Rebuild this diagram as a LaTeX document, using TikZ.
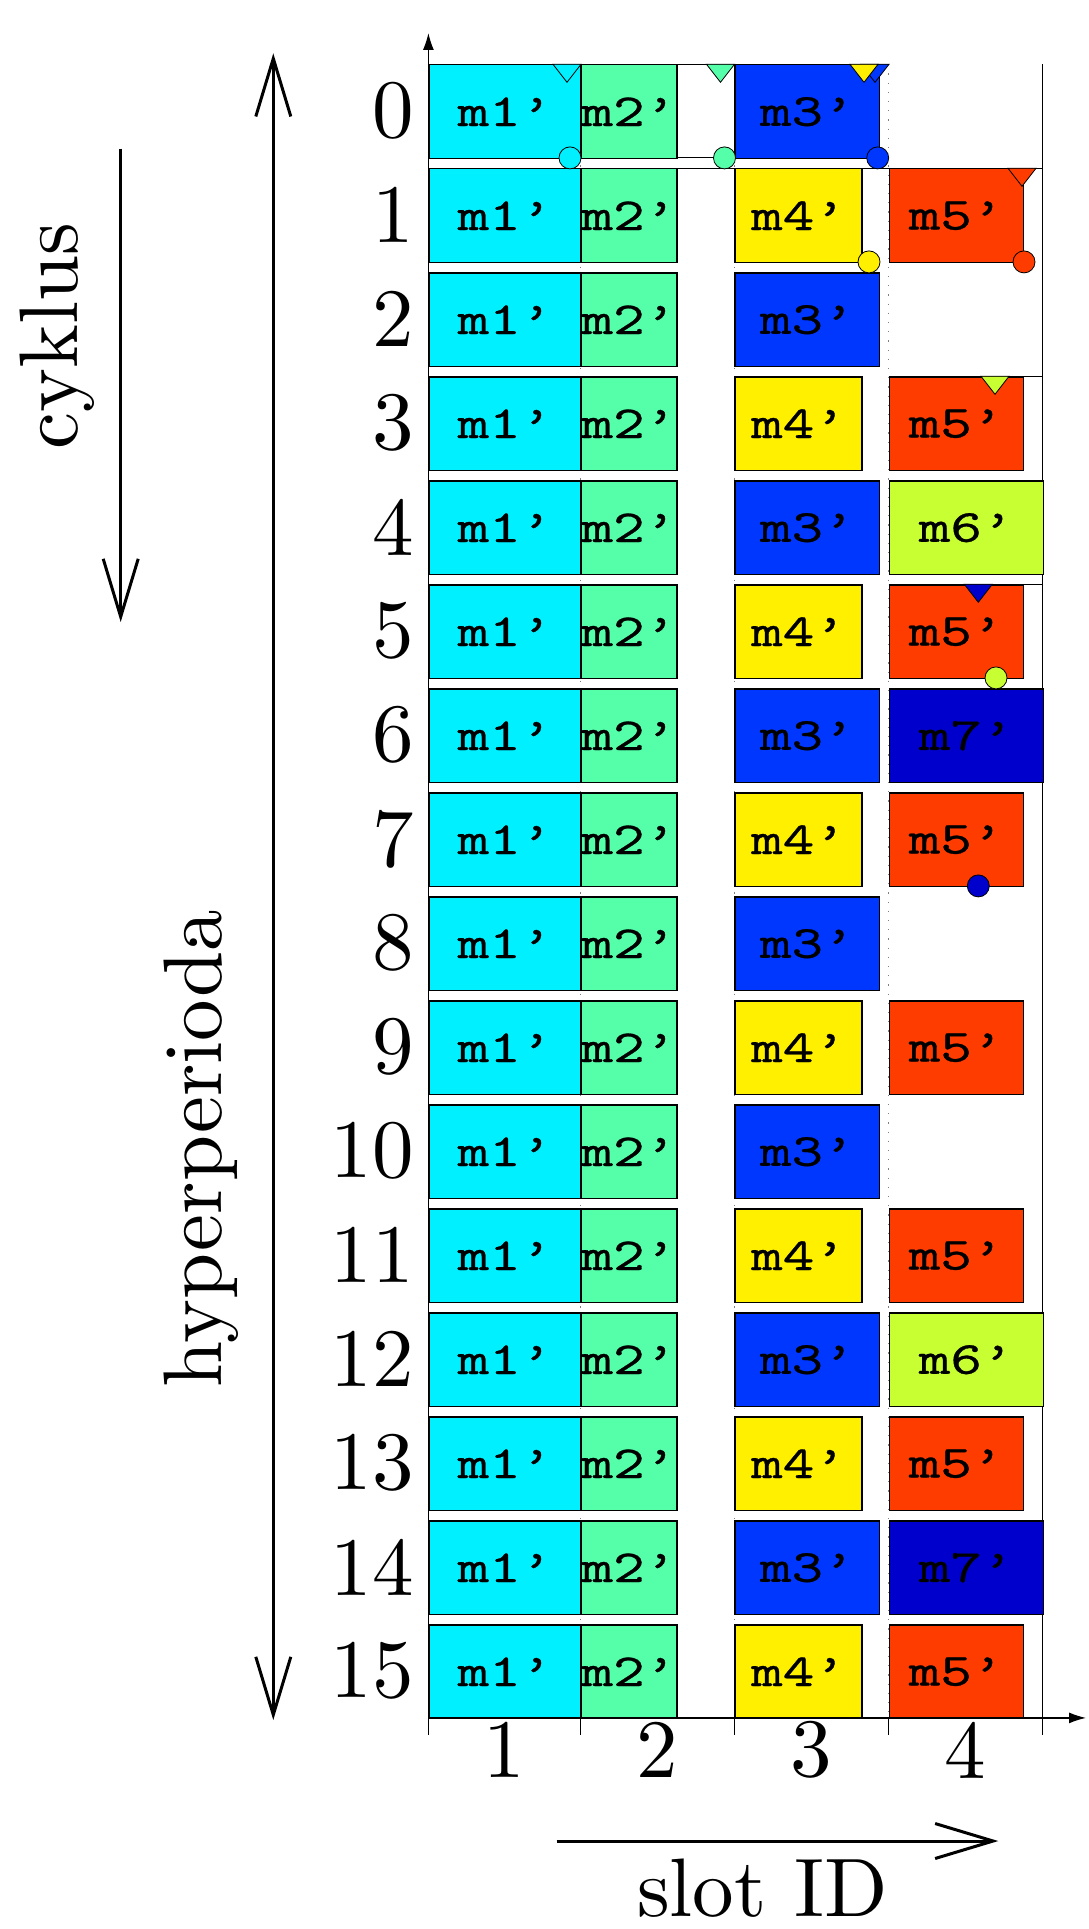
\documentclass[tikz,border=0pt]{standalone}
\usepackage{graphicx}
\usetikzlibrary{arrows.meta}

% fonts: large roman digits/labels and the typewriter cell text
\font\bigrm="[lmroman10-regular]:mapping=tex-text" at 83pt
\font\celltt="[lmmono10-regular]:embolden=0.6" at 46pt
\newcommand\celltext[1]{\scalebox{1.3}[1]{\celltt #1}}

% message colours
\definecolor{cMone}{RGB}{0,240,255}
\definecolor{cMtwo}{RGB}{85,255,170}
\definecolor{cMthree}{RGB}{0,55,255}
\definecolor{cMfour}{RGB}{255,240,0}
\definecolor{cMfive}{RGB}{255,60,0}
\definecolor{cMsix}{RGB}{200,255,50}
\definecolor{cMseven}{RGB}{0,0,205}

% slot boundaries
\def\Xa{428.4}
\def\Xb{580.3}
\def\Xc{734.4}
\def\Xd{888.5}
\def\Xe{1042.6}

\begin{document}
\begin{tikzpicture}[x=1pt,y=-1pt,
  cell/.style={draw=black, line width=1.2pt, inner sep=0pt, anchor=north west,
               minimum height=93.6pt},
  rowlabel/.style={anchor=east, inner sep=0pt, font=\bigrm},
  biglabel/.style={inner sep=0pt, font=\bigrm},
  bigarrow/.style={line width=3pt, -{Straight Barb[length=58pt,width=35pt]}},
  axisline/.style={line width=1.3pt, -{Latex[length=17pt,width=11pt]}},
  frameline/.style={line width=1pt},
  slotgrid/.style={gray, line width=1pt, dash pattern=on 1.2pt off 8pt},
  marker/.style={draw=black, line width=0.8pt}]
\useasboundingbox (0,0) rectangle (1088,1929);

% dotted slot boundaries and frame lines behind the cells
\foreach \x in {\Xb,\Xc,\Xd}
  \draw[slotgrid] (\x,64.3) -- (\x,1717.9);
\draw[frameline] (\Xa,64.3) -- (\Xd,64.3);
\draw[frameline] (\Xa,157.9) -- (\Xd,157.9);
\draw[frameline] (\Xa,168.3) -- (\Xe,168.3);
\draw[frameline] (\Xd,376.3) -- (\Xe,376.3);
\draw[frameline] (\Xd,584.3) -- (\Xe,584.3);
\draw[line width=1.3pt] (\Xe,64.3) -- (\Xe,1735);

% rows (cycles): labels, slot 1 and slot 2
\foreach \i in {0,...,15} {
  \pgfmathsetmacro\rt{64.3+104*\i}
  \pgfmathsetmacro\rc{\rt+46.8}
  \node[rowlabel] (lab\i) at (414,\rc) {\i};
  \node[cell, fill=cMone, minimum width=151.9pt] (ma\i) at (\Xa,\rt) {\celltext{m1’}};
  \node[cell, fill=cMtwo, minimum width=96pt] (mb\i) at (\Xb,\rt) {\celltext{m2’}};
}
% slot 3: m3' in even cycles, m4' in odd cycles; slot 4: m5' in odd cycles
\foreach \i in {0,2,...,14} {
  \pgfmathsetmacro\rt{64.3+104*\i}
  \node[cell, fill=cMthree, minimum width=144.6pt] (mc\i) at (\Xc,\rt) {\celltext{m3’}};
}
\foreach \i in {1,3,...,15} {
  \pgfmathsetmacro\rt{64.3+104*\i}
  \node[cell, fill=cMfour, minimum width=127pt] (md\i) at (\Xc,\rt) {\celltext{m4’}};
  \node[cell, fill=cMfive, minimum width=134pt] (me\i) at (\Xd,\rt) {\celltext{m5’}};
}
\foreach \i in {4,12} {
  \pgfmathsetmacro\rt{64.3+104*\i}
  \node[cell, fill=cMsix, minimum width=154.1pt] (mf\i) at (\Xd,\rt) {\celltext{m6’}};
}
\foreach \i in {6,14} {
  \pgfmathsetmacro\rt{64.3+104*\i}
  \node[cell, fill=cMseven, minimum width=154.1pt] (mg\i) at (\Xd,\rt) {\celltext{m7’}};
}

% release markers (triangles) on the top edge of a cycle
\foreach \x/\y/\c in {567/64.3/cMone, 720.5/64.3/cMtwo, 875/64.3/cMthree,
                      864/64.3/cMfour, 1022/168.3/cMfive, 995/376.3/cMsix,
                      978.3/584.3/cMseven}
  \draw[marker, fill=\c] (\x-14,\y) -- (\x+14,\y) -- (\x,\y+18) -- cycle;

% deadline markers (circles) on the bottom edge of a cycle
\foreach \x/\y/\c in {570/157.9/cMone, 724.5/157.9/cMtwo, 877.7/157.9/cMthree,
                      869/261.9/cMfour, 1024/261.9/cMfive, 996/677.9/cMsix,
                      978.3/885.9/cMseven}
  \draw[marker, fill=\c] (\x,\y) circle[radius=11];

% axes
\coordinate (origin) at (\Xa,1717.9);
\coordinate (ytip) at (\Xa,33);
\coordinate (xtip) at (1086,1717.9);
\draw[axisline] (origin) -- (ytip);
\draw[axisline] (origin) -- (xtip);
\foreach \x in {\Xa,\Xb,\Xc,\Xd}
  \draw[line width=1.3pt] (\x,1717.9) -- (\x,1735);
\node[biglabel] (s1) at ({(\Xa+\Xb)/2},1750) {1};
\node[biglabel] (s2) at ({(\Xb+\Xc)/2},1750) {2};
\node[biglabel] (s3) at ({(\Xc+\Xd)/2},1750) {3};
\node[biglabel] (s4) at ({(\Xd+\Xe)/2},1750) {4};

% direction arrows and their captions
\coordinate (hpTop) at (273.3,1720);
\coordinate (hpBot) at (273.3,53.3);
\draw[line width=3pt, {Straight Barb[length=58pt,width=35pt]}-{Straight Barb[length=58pt,width=35pt]}] (hpBot) -- (hpTop);
\node[biglabel, rotate=90] (hyper) at (201.7,1148.5) {hyperperioda};

\coordinate (cyStart) at (120.7,148.6);
\coordinate (cyEnd) at (120.7,622);
\draw[bigarrow] (cyStart) -- (cyEnd);
\node[biglabel, rotate=90] (cyk) at (57.5,336) {cyklus};

\coordinate (slStart) at (556.7,1841);
\coordinate (slEnd) at (998.3,1841);
\draw[bigarrow] (slStart) -- (slEnd);
\node[biglabel, anchor=base] (slot) at (762.5,1916.7) {slot ID};
\end{tikzpicture}
\end{document}
